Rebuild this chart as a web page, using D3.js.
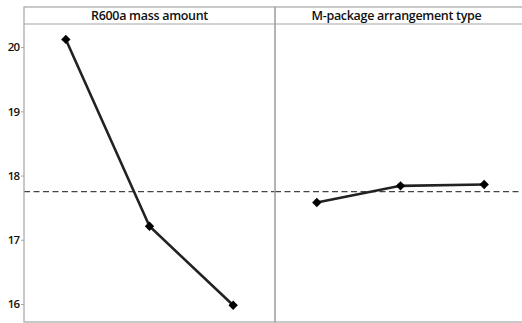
<!DOCTYPE html>
<html>
<head>
<meta charset="utf-8">
<script src="https://cdn.jsdelivr.net/npm/d3@7.9.0/dist/d3.min.js"></script>
<style>
  body { margin: 0; background: #fff; }
  svg { display: block; }
  text { font-family: "Open Sans", "Noto Sans", sans-serif; fill: #111; }
</style>
</head>
<body>
<svg id="chart" width="522" height="323"></svg>
<script>
const panels = ['R600a mass amount', 'M-package arrangement type'];
const levels = [1, 2, 3];
const r600aMeans = [20.12, 17.21, 15.98];
const packageMeans = [17.58, 17.84, 17.86];
const grandMean = 17.75;
const yTicks = [16, 17, 18, 19, 20];

const series = [r600aMeans, packageMeans];

const svg = d3.select('#chart');
const padLeft = 24, padTop = 7, headerH = 17, padBottom = 322, panelW = 251;

const y = d3.scaleLinear()
  .domain([15.72, 20.36])
  .range([padBottom, padTop + headerH]);

const g = svg.append('g');

panels.forEach((name, i) => {
  const x0 = padLeft + i * panelW;
  const x = d3.scalePoint()
    .domain(levels)
    .range([x0, x0 + panelW])
    .padding(0.5);

  const p = g.append('g');

  // header
  p.append('text')
    .attr('x', x0 + panelW / 2 - (i === 1 ? 4 : 0))
    .attr('y', padTop + 13)
    .attr('text-anchor', 'middle')
    .attr('font-size', 12.5)
    .attr('font-weight', 600)
    .attr('letter-spacing', -0.3)
    .text(name);

  // reference line
  p.append('line')
    .attr('x1', x0).attr('x2', x0 + panelW)
    .attr('y1', y(grandMean)).attr('y2', y(grandMean))
    .attr('stroke', '#444').attr('stroke-width', 1.3)
    .attr('stroke-dasharray', '6,3.5');

  const data = series[i].map((v, j) => ({ level: levels[j], value: v }));

  p.append('path')
    .datum(data)
    .attr('fill', 'none')
    .attr('stroke', '#222')
    .attr('stroke-width', 2.6)
    .attr('d', d3.line().x(d => x(d.level)).y(d => y(d.value)));

  p.selectAll('path.pt')
    .data(data)
    .join('path')
    .attr('class', 'pt')
    .attr('transform', d => `translate(${x(d.level)},${y(d.value)})`)
    .attr('d', d3.symbol(d3.symbolDiamond2, 56))
    .attr('fill', '#000');

  // panel frame
  p.append('rect')
    .attr('x', x0).attr('y', padTop)
    .attr('width', panelW).attr('height', padBottom - padTop)
    .attr('fill', 'none').attr('stroke', '#a6a6a6').attr('stroke-width', 1.2);
  p.append('line')
    .attr('x1', x0).attr('x2', x0 + panelW)
    .attr('y1', padTop + headerH).attr('y2', padTop + headerH)
    .attr('stroke', '#a6a6a6').attr('stroke-width', 1.2);
});

// y axis
const axis = svg.append('g')
  .attr('transform', `translate(${padLeft},0)`)
  .call(d3.axisLeft(y).tickValues(yTicks).tickFormat(d3.format('d')).tickSize(3).tickPadding(2));
axis.select('.domain').remove();
axis.selectAll('.tick line').attr('stroke', '#a6a6a6');
axis.selectAll('.tick text')
  .attr('font-size', 11.5)
  .attr('font-weight', 600)
  .attr('letter-spacing', -1)
  .attr('fill', '#111')
  .style('font-family', '"Open Sans", sans-serif');
</script>
</body>
</html>
